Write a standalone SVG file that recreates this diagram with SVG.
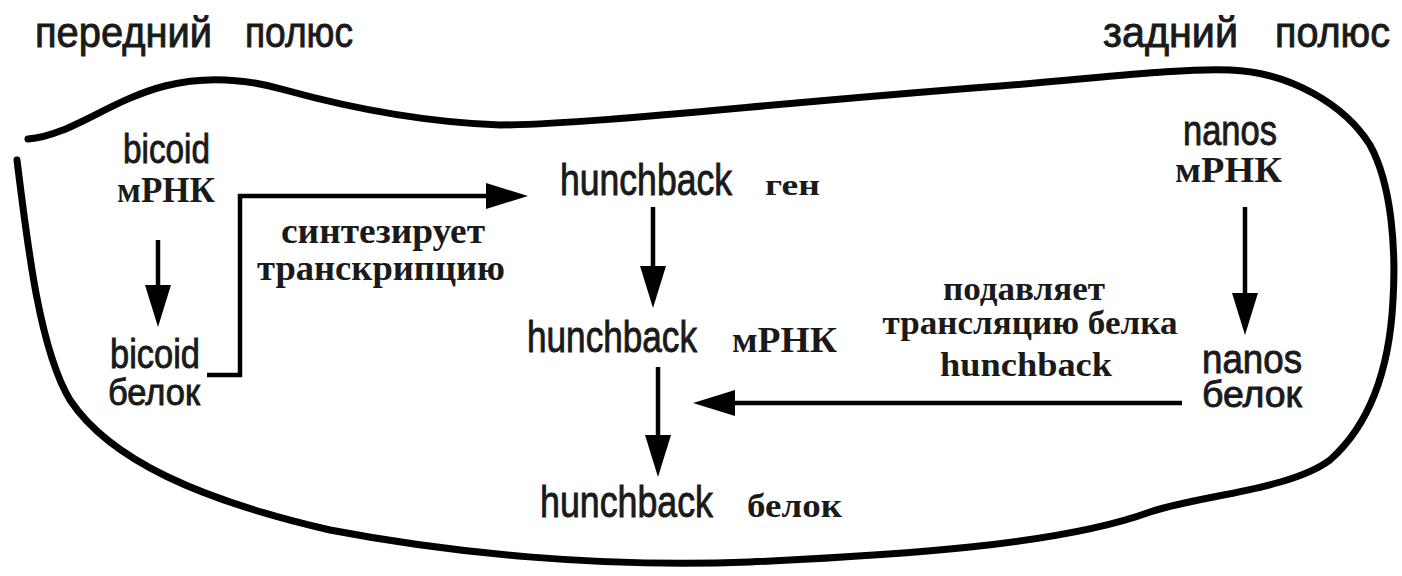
<svg xmlns="http://www.w3.org/2000/svg" width="1402" height="576" viewBox="0 0 1402 576">
  <style>
    .sans { font-family: "Liberation Sans", Arial, sans-serif; fill: #1a1a1a; stroke: #1a1a1a; stroke-width: 0.9; }
    .serif { font-family: "Liberation Serif", "Times New Roman", serif; font-weight: bold; fill: #1a1a1a; }
    .outline { fill: none; stroke: #000; stroke-width: 7; stroke-linecap: round; stroke-linejoin: round; }
    .link { fill: none; stroke: #000; stroke-width: 4.5; marker-end: url(#head); }
  </style>
  <defs>
    <marker id="head" viewBox="0 0 42 26" markerWidth="42" markerHeight="26" markerUnits="userSpaceOnUse" refX="0" refY="13" orient="auto">
      <path d="M0,0 L42,13 L0,26 Z" fill="#000"/>
    </marker>
  </defs>
  <rect width="1402" height="576" fill="#fff"/>

  <!-- pole labels -->
  <g id="anterior-pole">
    <text class="sans" x="35" y="47" font-size="42" textLength="177" lengthAdjust="spacingAndGlyphs">передний</text>
    <text class="sans" x="245" y="47" font-size="42" textLength="108" lengthAdjust="spacingAndGlyphs">полюс</text>
  </g>
  <g id="posterior-pole">
    <text class="sans" x="1103" y="47" font-size="42" textLength="135" lengthAdjust="spacingAndGlyphs">задний</text>
    <text class="sans" x="1275" y="47" font-size="42" textLength="115" lengthAdjust="spacingAndGlyphs">полюс</text>
  </g>

  <!-- embryo outline -->
  <g id="embryo">
    <path class="outline" d="M 28 139
      C 70 136, 110 100, 165 86
      C 200 77, 240 77, 285 90
      C 350 108, 420 122, 500 125
      C 600 124, 760 104, 1000 86
      C 1100 78, 1180 68, 1230 70
      C 1290 72, 1345 105, 1370 145
      C 1392 185, 1396 250, 1393 300
      C 1390 360, 1375 420, 1330 460
      C 1290 490, 1200 495, 1150 512
      C 1060 545, 900 555, 750 562
      C 600 568, 450 553, 330 530
      C 200 500, 110 460, 70 400
      C 40 350, 28 250, 17 160"/>
  </g>

  <!-- nodes -->
  <g id="bicoid-mrna">
    <text class="sans" x="123" y="163" font-size="40" textLength="87" lengthAdjust="spacingAndGlyphs">bicoid</text>
    <text class="serif" x="117" y="202" font-size="36" textLength="98" lengthAdjust="spacingAndGlyphs">мРНК</text>
  </g>
  <g id="bicoid-protein">
    <text class="sans" x="110" y="368" font-size="40" textLength="90" lengthAdjust="spacingAndGlyphs">bicoid</text>
    <text class="sans" x="108" y="405" font-size="36" textLength="92" lengthAdjust="spacingAndGlyphs">белок</text>
  </g>
  <g id="hunchback-gene">
    <text class="sans" x="560" y="195" font-size="44" textLength="172" lengthAdjust="spacingAndGlyphs">hunchback</text>
    <text class="serif" x="765" y="195" font-size="30" textLength="55" lengthAdjust="spacingAndGlyphs">ген</text>
  </g>
  <g id="hunchback-mrna">
    <text class="sans" x="527" y="352" font-size="44" textLength="170" lengthAdjust="spacingAndGlyphs">hunchback</text>
    <text class="serif" x="732" y="352" font-size="36" textLength="105" lengthAdjust="spacingAndGlyphs">мРНК</text>
  </g>
  <g id="hunchback-protein">
    <text class="sans" x="540" y="517" font-size="45" textLength="173" lengthAdjust="spacingAndGlyphs">hunchback</text>
    <text class="serif" x="747" y="517" font-size="34" textLength="95" lengthAdjust="spacingAndGlyphs">белок</text>
  </g>
  <g id="nanos-mrna">
    <text class="sans" x="1183" y="145" font-size="42" textLength="94" lengthAdjust="spacingAndGlyphs">nanos</text>
    <text class="serif" x="1175" y="182" font-size="36" textLength="107" lengthAdjust="spacingAndGlyphs">мРНК</text>
  </g>
  <g id="nanos-protein">
    <text class="sans" x="1202" y="373" font-size="40" textLength="100" lengthAdjust="spacingAndGlyphs">nanos</text>
    <text class="sans" x="1202" y="407" font-size="36" textLength="100" lengthAdjust="spacingAndGlyphs">белок</text>
  </g>

  <!-- connectors -->
  <g id="connectors">
    <path class="link" d="M158 240 V285"/>
    <path class="link" d="M207 375 H240 V196 H486"/>
    <path class="link" d="M653 207 V266"/>
    <path class="link" d="M658 367 V435"/>
    <path class="link" d="M1182 403 H735"/>
    <path class="link" d="M1245 207 V293"/>
  </g>

  <!-- connector labels -->
  <g id="label-activates">
    <text class="serif" x="383" y="243" font-size="35" text-anchor="middle" textLength="204" lengthAdjust="spacingAndGlyphs">синтезирует</text>
    <text class="serif" x="381" y="280" font-size="35" text-anchor="middle" textLength="248" lengthAdjust="spacingAndGlyphs">транскрипцию</text>
  </g>
  <g id="label-represses">
    <text class="serif" x="1024" y="300" font-size="34" text-anchor="middle" textLength="162" lengthAdjust="spacingAndGlyphs">подавляет</text>
    <text class="serif" x="1030" y="334" font-size="34" text-anchor="middle" textLength="295" lengthAdjust="spacingAndGlyphs">трансляцию белка</text>
    <text class="serif" x="1026" y="376" font-size="34" text-anchor="middle" textLength="172" lengthAdjust="spacingAndGlyphs">hunchback</text>
  </g>
</svg>
